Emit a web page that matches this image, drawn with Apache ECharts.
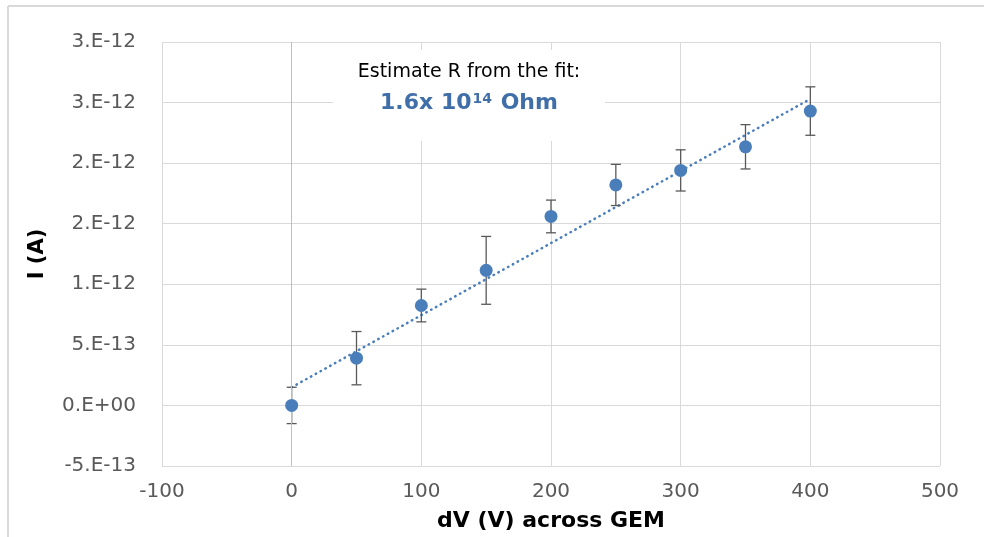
<!DOCTYPE html>
<html>
<head>
<meta charset="utf-8">
<script src="https://cdn.jsdelivr.net/npm/echarts@6/dist/echarts.min.js"></script>
<style>
  html, body { margin: 0; padding: 0; background: #fff; }
  #chart { width: 984px; height: 537px; }
</style>
</head>
<body>
<div id="chart"></div>
<script>
// dV across GEM (V)
var voltages = [0, 50, 100, 150, 200, 250, 300, 350, 400];
// measured current, in units of 1e-12 A
var currents = [0, 0.39, 0.825, 1.115, 1.56, 1.82, 1.94, 2.135, 2.43];
// error bar half width, in units of 1e-12 A
var errors = [0.15, 0.22, 0.135, 0.28, 0.135, 0.17, 0.17, 0.183, 0.2];
// fitted line end points (V, 1e-12 A)
var fitX = [0, 400];
var fitY = [0.15, 2.53];

var xTickLabels = ['-100', '0', '100', '200', '300', '400', '500'];
var yTickLabels = ['-5.E-13', '0.E+00', '5.E-13', '1.E-12', '2.E-12', '2.E-12', '3.E-12', '3.E-12'];

var blue = '#4a7ebb';
var font = 'DejaVu Sans';

var pts = voltages.map(function (v, i) { return [v, currents[i]]; });
var bars = voltages.map(function (v, i) { return [v, currents[i] - errors[i], currents[i] + errors[i]]; });
var fit = fitX.map(function (v, i) { return [v, fitY[i]]; });

var myChart = echarts.init(document.getElementById('chart'));

var option = {
    animation: false,
    textStyle: { fontFamily: font },
    grid: { left: 162, right: 44, top: 42, bottom: 71 },
    xAxis: {
        type: 'value',
        min: -100, max: 500, interval: 100,
        name: 'dV (V) across GEM',
        nameLocation: 'middle',
        nameGap: 44,
        nameTextStyle: { fontSize: 22, fontWeight: 'bold', color: '#000', fontFamily: font },
        axisLine: { show: false, onZero: false },
        axisTick: { show: false },
        axisLabel: {
            fontSize: 20, color: '#595959', margin: 16,
            formatter: function (v) { return xTickLabels[Math.round((v + 100) / 100)]; }
        },
        splitLine: { lineStyle: { color: '#d9d9d9', width: 1 } }
    },
    yAxis: {
        type: 'value',
        min: -0.5, max: 3, interval: 0.5,
        name: 'I (A)',
        nameLocation: 'middle',
        nameGap: 114,
        nameRotate: 90,
        nameTextStyle: { fontSize: 21, fontWeight: 'bold', color: '#000', fontFamily: font },
        axisLine: { show: false },
        axisTick: { show: false },
        axisLabel: {
            fontSize: 20, color: '#595959', margin: 26,
            formatter: function (v) { return yTickLabels[Math.round((v + 0.5) / 0.5)]; }
        },
        splitLine: { lineStyle: { color: '#d9d9d9', width: 1 } }
    },
    graphic: [
        { type: 'line', shape: { x1: 8, y1: 6, x2: 984, y2: 6 }, style: { stroke: '#d9d9d9', lineWidth: 2 } },
        { type: 'line', shape: { x1: 8, y1: 6, x2: 8, y2: 537 }, style: { stroke: '#d9d9d9', lineWidth: 2 } },
        { type: 'rect', z: 50, shape: { x: 333, y: 50, width: 272, height: 91 }, style: { fill: '#fff' } },
        {
            type: 'text', z: 51,
            style: {
                text: 'Estimate R from the fit:', x: 469, y: 72,
                align: 'center', verticalAlign: 'middle',
                font: '19px "DejaVu Sans"', fill: '#000'
            }
        },
        {
            type: 'text', z: 51,
            style: {
                x: 469, y: 103, align: 'center', verticalAlign: 'middle',
                text: '{b|1.6x 10}{s|14}{b| Ohm}',
                rich: {
                    b: { fontSize: 22, fontWeight: 'bold', fill: '#3f6ea8', fontFamily: font },
                    s: { fontSize: 14, fontWeight: 'bold', fill: '#3f6ea8', fontFamily: font, verticalAlign: 'top', padding: [0, 1, 8, 1] }
                }
            }
        }
    ],
    series: [
        {
            name: 'axis0',
            type: 'line',
            data: [],
            markLine: {
                silent: true, symbol: 'none', label: { show: false },
                lineStyle: { color: '#bfbfbf', type: 'solid', width: 1 },
                data: [{ xAxis: 0 }]
            }
        },
        {
            name: 'fit',
            type: 'line',
            data: fit,
            showSymbol: false,
            z: 3,
            lineStyle: { color: blue, width: 2.5, type: [0.5, 5], cap: 'round' }
        },
        {
            name: 'errors',
            type: 'custom',
            data: bars,
            z: 4,
            renderItem: function (params, api) {
                var x = api.value(0);
                var lo = api.coord([x, api.value(1)]);
                var hi = api.coord([x, api.value(2)]);
                var w = 5;
                var st = { stroke: '#595959', lineWidth: 1.3 };
                return {
                    type: 'group',
                    children: [
                        { type: 'line', shape: { x1: lo[0], y1: lo[1], x2: hi[0], y2: hi[1] }, style: st },
                        { type: 'line', shape: { x1: lo[0] - w, y1: lo[1], x2: lo[0] + w, y2: lo[1] }, style: st },
                        { type: 'line', shape: { x1: hi[0] - w, y1: hi[1], x2: hi[0] + w, y2: hi[1] }, style: st }
                    ]
                };
            }
        },
        {
            name: 'I',
            type: 'scatter',
            data: pts,
            symbolSize: 13,
            z: 5,
            itemStyle: { color: blue, opacity: 1 }
        }
    ]
};

myChart.setOption(option);
</script>
</body>
</html>
